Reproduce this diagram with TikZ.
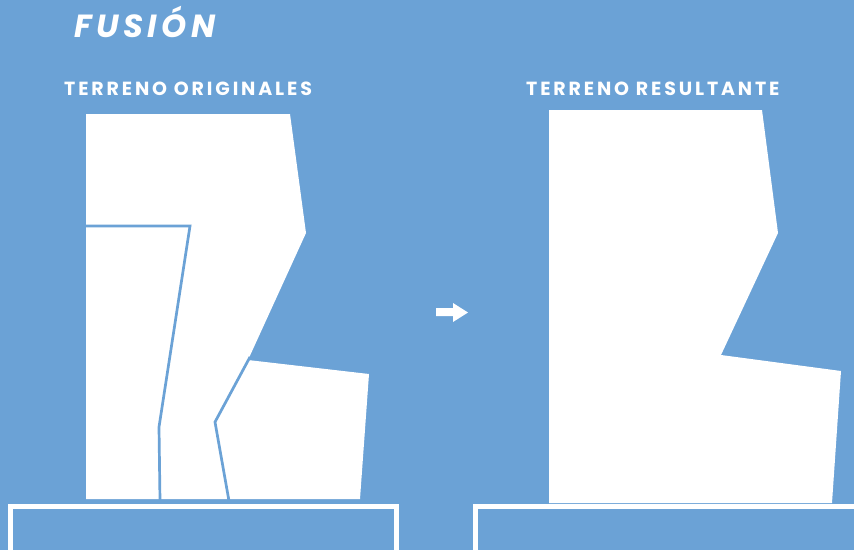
\documentclass[tikz,border=0pt]{standalone}
\usepackage{fontspec}
\setmainfont{Poppins}
\newfontfamily\titlefont[LetterSpace=14]{Poppins}
\newfontfamily\headfont[LetterSpace=15]{Poppins}
\definecolor{bgblue}{HTML}{6BA2D6}
\begin{document}
\begin{tikzpicture}[x=1pt,y=-1pt,
  piece/.style={fill=white,draw=none},
  seam/.style={draw=bgblue,line width=2.7pt,line join=miter},
  base/.style={draw=white,line width=5pt},
  heading/.style={text=white,anchor=base west,inner sep=0pt,font=\headfont\bfseries\fontsize{19}{22}\selectfont},
  title/.style={text=white,anchor=base west,inner sep=0pt,font=\titlefont\bfseries\itshape\fontsize{32}{37}\selectfont}]
\fill[bgblue] (0,0) rectangle (854,550);
\useasboundingbox (0,0) rectangle (854,550);
\clip (0,0) rectangle (854,550);
% titles
\node[title] (t) at (74,37) {FUSIÓN};
\node[heading] (h1) at (64,95) {TERRENO ORIGINALES};
\node[heading] (h2) at (526,95) {TERRENO RESULTANTE};
% left terrain
\fill[piece] (86,114) -- (290,114) -- (306,233) -- (248,360) -- (369,374) -- (360,499) -- (86,499) -- cycle;
\draw[seam] (84,226) -- (190,226) -- (159,427) -- (160,501);
\draw[seam] (250,357) -- (215,422) -- (229,501);
% right terrain
\fill[piece] (549,110) -- (762,110) -- (778,233) -- (721,355) -- (841,371) -- (832,503) -- (549,503) -- cycle;
% arrow
\fill[white] (436,308) -- (453,308) -- (453,303) -- (468,312.5) -- (453,322) -- (453,316) -- (436,316) -- cycle;
% bases
\draw[base] (10.8,570) -- (10.8,506.5) -- (396.5,506.5) -- (396.5,570);
\draw[base] (475.5,570) -- (475.5,506.5) -- (870,506.5);
\end{tikzpicture}
\end{document}
